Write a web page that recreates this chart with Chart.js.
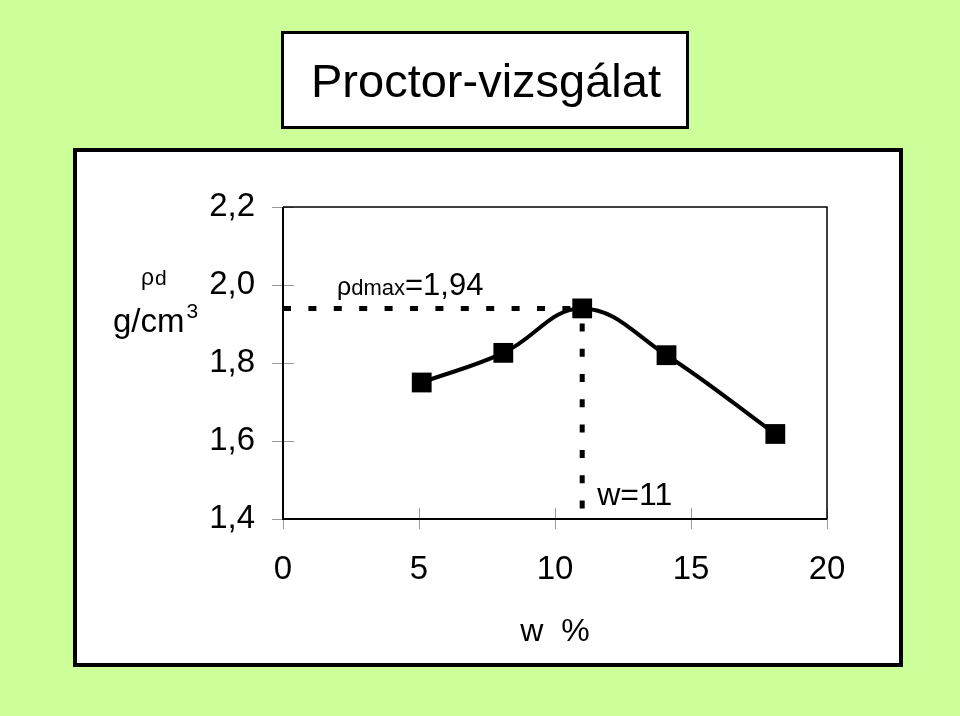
<!DOCTYPE html>
<html>
<head>
<meta charset="utf-8">
<script src="https://cdn.jsdelivr.net/npm/chart.js@4"></script>
<style>
  body { margin: 0; background: #ccff99; }
  canvas { display: block; }
</style>
</head>
<body>
<canvas id="myChart" width="960" height="716"></canvas>
<script>
// adatok
const wValues = [5.1, 8.1, 11.0, 14.1, 18.1];      // w %
const rhoValues = [1.75, 1.826, 1.94, 1.82, 1.618]; // ρd g/cm3
const wOpt = 11;
const rhoMax = 1.94;
const xTicks = [0, 5, 10, 15, 20];
const yTicks = [1.4, 1.6, 1.8, 2.0, 2.2];

const FONT = '"Liberation Sans", Arial, sans-serif';

function runs(ctx, x, y, parts) {
	// egymás után rajzolt szövegrészek (alsó index, felső index)
	let cx = x;
	parts.forEach(p => {
		ctx.font = p.size + 'px ' + FONT;
		ctx.fillText(p.t, cx, y + (p.dy || 0));
		cx += ctx.measureText(p.t).width + (p.gap || 0);
	});
}

const decor = {
	id: 'decor',
	beforeDraw(chart) {
		const ctx = chart.ctx;
		ctx.save();
		ctx.fillStyle = '#ccff99';
		ctx.fillRect(0, 0, chart.width, chart.height);
		// fő keret
		ctx.fillStyle = '#fff';
		ctx.fillRect(75, 150, 826, 515);
		ctx.lineWidth = 4;
		ctx.strokeStyle = '#000';
		ctx.strokeRect(75, 150, 826, 515);
		// cím doboz
		ctx.fillRect(282.5, 32.5, 405, 95);
		ctx.lineWidth = 3;
		ctx.strokeRect(282.5, 32.5, 405, 95);
		ctx.fillStyle = '#000';
		ctx.textBaseline = 'alphabetic';
		ctx.textAlign = 'center';
		ctx.font = '47px ' + FONT;
		ctx.fillText('Proctor-vizsgálat', 486, 97);
		ctx.textAlign = 'left';
		// tengelyfeliratok
		runs(ctx, 141, 285, [{t: 'ρ', size: 23, gap: 1}, {t: 'd', size: 21}]);
		runs(ctx, 113, 332, [{t: 'g/cm', size: 33, gap: 2}, {t: '3', size: 21, dy: -14}]);
		ctx.textAlign = 'center';
		ctx.font = '32px ' + FONT;
		ctx.fillText('w  %', 555, 641);
		ctx.restore();
	},
	beforeDatasetsDraw(chart) {
		const ctx = chart.ctx;
		const a = chart.chartArea;
		const xs = chart.scales.x, ys = chart.scales.y;
		ctx.save();
		// osztásjelek
		ctx.strokeStyle = '#999';
		ctx.lineWidth = 1;
		ctx.beginPath();
		xTicks.forEach(v => {
			const px = Math.round(xs.getPixelForValue(v)) + 0.5;
			ctx.moveTo(px, a.bottom - 11);
			ctx.lineTo(px, a.bottom + 10);
		});
		yTicks.forEach(v => {
			const py = Math.round(ys.getPixelForValue(v)) + 0.5;
			ctx.moveTo(a.left - 11, py);
			ctx.lineTo(a.left + 11, py);
		});
		ctx.stroke();
		// keret
		ctx.strokeStyle = '#000';
		ctx.lineWidth = 1.5;
		ctx.beginPath();
		ctx.moveTo(a.left, a.top);
		ctx.lineTo(a.right, a.top);
		ctx.lineTo(a.right, a.bottom);
		ctx.stroke();
		ctx.lineWidth = 2;
		ctx.beginPath();
		ctx.moveTo(a.left, a.top);
		ctx.lineTo(a.left, a.bottom);
		ctx.lineTo(a.right, a.bottom);
		ctx.stroke();
		ctx.restore();
	},
	afterDatasetsDraw(chart) {
		const ctx = chart.ctx;
		const xs = chart.scales.x, ys = chart.scales.y;
		ctx.save();
		ctx.fillStyle = '#000';
		ctx.textBaseline = 'alphabetic';
		ctx.textAlign = 'left';
		const ym = ys.getPixelForValue(rhoMax);
		runs(ctx, 337, ym - 13, [
			{t: 'ρ', size: 25}, {t: 'dmax', size: 22},
			{t: '=' + rhoMax.toFixed(2).replace('.', ','), size: 31}
		]);
		const xo = xs.getPixelForValue(wOpt);
		ctx.font = '32px ' + FONT;
		ctx.fillText('w=' + wOpt, xo + 15, ys.getPixelForValue(yTicks[0]) - 14);
		ctx.restore();
	}
};

const ctx = document.getElementById('myChart').getContext('2d');
const myChart = new Chart(ctx, {
	type: 'line',
	data: {
		datasets: [
			{
				data: wValues.map((w, i) => ({x: w, y: rhoValues[i]})),
				borderColor: '#000',
				backgroundColor: '#000',
				borderWidth: 4,
				tension: 0.4,
				pointStyle: 'rect',
				pointRadius: 14,
				pointBorderWidth: 0,
				order: 0
			},
			{
				data: [{x: 0, y: rhoMax}, {x: wOpt, y: rhoMax}],
				borderColor: '#000',
				borderWidth: 5,
				borderDash: [8, 17.4],
				pointRadius: 0,
				tension: 0,
				order: 1
			},
			{
				data: [{x: wOpt, y: rhoMax}, {x: wOpt, y: yTicks[0]}],
				borderColor: '#000',
				borderWidth: 5,
				borderDash: [8, 17.3],
				borderDashOffset: 10.3,
				pointRadius: 0,
				tension: 0,
				order: 1
			}
		]
	},
	options: {
		responsive: false,
		animation: false,
		events: [],
		layout: { padding: { left: 0, top: 207, right: 133, bottom: 0 } },
		plugins: { legend: { display: false }, tooltip: { enabled: false } },
		scales: {
			x: {
				type: 'linear',
				min: 0, max: 20,
				grid: { display: false },
				border: { display: false },
				afterFit: s => { s.height = 197; },
				afterBuildTicks: s => { s.ticks = xTicks.map(v => ({value: v})); },
				ticks: {
					padding: 23,
					color: '#000',
					font: { family: FONT, size: 33 },
					maxRotation: 0
				}
			},
			y: {
				min: 1.4, max: 2.2,
				grid: { display: false },
				border: { display: false },
				afterFit: s => { s.width = 283; },
				afterBuildTicks: s => { s.ticks = yTicks.map(v => ({value: v})); },
				ticks: {
					padding: 20,
					color: '#000',
					font: { family: FONT, size: 33 },
					callback: v => v.toFixed(1).replace('.', ',')
				}
			}
		}
	},
	plugins: [decor]
});
</script>
</body>
</html>
